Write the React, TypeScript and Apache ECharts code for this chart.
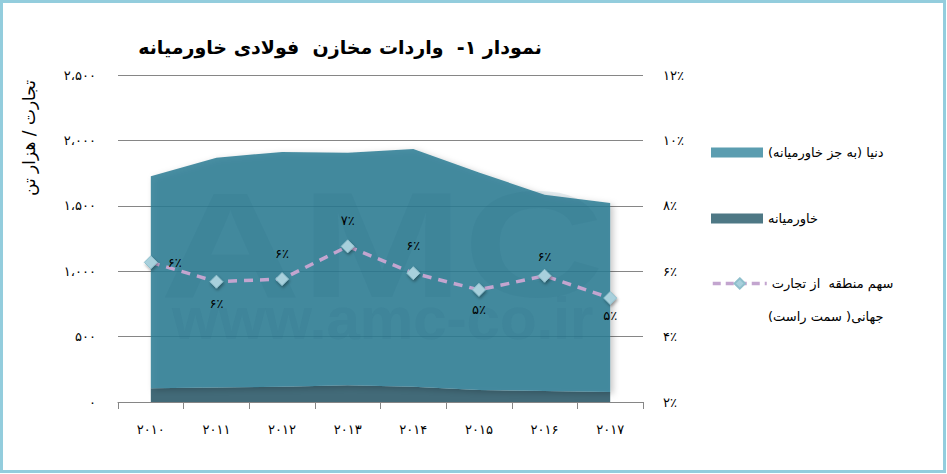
import React, { useEffect, useRef } from "react";
import * as echarts from "echarts";

const years = ["2010", "2011", "2012", "2013", "2014", "2015", "2016", "2017"];
const middleEast = [105, 110, 117, 128, 117, 92, 84, 77];
const worldExME = [1620, 1758, 1795, 1777, 1818, 1663, 1501, 1444];
const sharePct = [6.27, 5.68, 5.76, 6.76, 5.94, 5.43, 5.86, 5.18];
const leftTickLabels = ["۰", "۵۰۰", "۱،۰۰۰", "۱،۵۰۰", "۲،۰۰۰", "۲،۵۰۰"];

const titleText = "نمودار ۱-  واردات مخازن  فولادی خاورمیانه";
const yName = "تجارت / هزار تن";
const worldName = "\u200Fدنیا (به جز خاورمیانه)\u200F";
const meName = "خاورمیانه";
const shareName = "سهم منطقه  از تجارت";
const shareName2 = "\u200Fجهانی( سمت راست)\u200F";

const FONT = "DejaVu Sans";
const faDigits = "۰۱۲۳۴۵۶۷۸۹";
const fa = (s: string | number) => String(s).replace(/[0-9]/g, (d) => faDigits[+d]);

const labelPos = ["right", "bottom", "top", "top", "top", "bottom", "top", "bottom"];
const labelDist = [10, 8, 12, 12, 14, 6, 6, 4];

export default function App() {
  const ref = useRef<HTMLDivElement>(null);
  useEffect(() => {
    document.body.style.margin = "0";
    const chart = echarts.init(ref.current!, null, { renderer: "svg" });
    const legendText = { fontFamily: FONT, fontSize: 13, color: "#000" };
    const option: any = {
      animation: false,
      backgroundColor: "#fff",
      textStyle: { fontFamily: FONT },
      title: {
        text: titleText,
        left: 335,
        textAlign: "center",
        top: 32,
        textStyle: { fontFamily: FONT, fontSize: 19, fontWeight: "bold", color: "#000" },
      },
      grid: { left: 118, right: 304, top: 75, bottom: 72 },
      legend: [
        {
          data: [{ name: worldName, icon: "rect", itemStyle: { color: "#5B9DB0" } }],
          left: 711, top: 146, padding: 0, itemWidth: 52, itemHeight: 10,
          textStyle: legendText,
        },
        {
          data: [{ name: meName, icon: "rect", itemStyle: { color: "#4E7885" } }],
          left: 711, top: 212, padding: 0, itemWidth: 52, itemHeight: 10,
          textStyle: legendText,
        },
        {
          data: [{ name: shareName, lineStyle: { color: "#C3A5CF", width: 3.5, type: [8, 5] } }],
          left: 711, top: 277, padding: 0, itemWidth: 54, itemHeight: 13,
          textStyle: legendText,
        },
      ],
      xAxis: {
        type: "category",
        data: years,
        boundaryGap: true,
        axisLine: { lineStyle: { color: "#868686", width: 1 } },
        axisTick: { show: true, length: 7, lineStyle: { color: "#868686" } },
        axisLabel: { formatter: (v: string) => fa(v), color: "#000", fontSize: 13, margin: 21, fontFamily: FONT },
      },
      yAxis: [
        {
          type: "value", min: 0, max: 2500, interval: 500,
          axisLine: { show: false }, axisTick: { show: false },
          splitLine: { lineStyle: { color: "#868686", width: 1 } },
          axisLabel: { formatter: (v: number) => leftTickLabels[Math.round(v / 500)], color: "#000", fontSize: 13, margin: 22, fontFamily: FONT },
        },
        {
          type: "value", min: 2, max: 12, interval: 2,
          axisLine: { show: false }, axisTick: { show: false }, splitLine: { show: false },
          axisLabel: { formatter: (v: number) => fa(v) + "٪", color: "#000", fontSize: 13, margin: 20, fontFamily: FONT },
        },
      ],
      series: [
        {
          type: "line", name: meName, stack: "imp", data: middleEast,
          symbol: "none", lineStyle: { width: 0, opacity: 0 },
          itemStyle: { color: "#426A78" },
          areaStyle: { color: "#426A78", opacity: 1 },
          z: 2,
        },
        {
          type: "line", name: worldName, stack: "imp", data: worldExME,
          symbol: "none", lineStyle: { width: 0, opacity: 0 },
          itemStyle: { color: "#2C7B93" },
          areaStyle: { color: "#2C7B93", opacity: 0.85, shadowBlur: 6, shadowColor: "rgba(0,0,0,0.25)", shadowOffsetX: 3, shadowOffsetY: 2 },
          z: 2,
        },
        {
          type: "line", name: shareName, yAxisIndex: 1,
          data: sharePct.map((v, i) => ({ value: v, label: { position: labelPos[i], distance: labelDist[i] } })),
          symbol: "diamond", symbolSize: 13,
          itemStyle: { color: "#A8D0DC", borderColor: "#8FBFCC", borderWidth: 1, shadowBlur: 3, shadowColor: "rgba(0,0,0,0.35)", shadowOffsetX: 1, shadowOffsetY: 2 },
          lineStyle: { color: "#C3A5CF", width: 3.5, type: [9, 7] },
          label: { show: true, formatter: (p: any) => fa(Math.round(p.value)) + "٪", color: "#000", fontSize: 13, fontFamily: FONT },
          z: 5,
        },
      ],
      graphic: [
        {
          type: "text", x: 160, y: 320, z: 3, silent: true, scaleX: 1.3,
          style: { text: "AMC", font: "bold 150px 'Liberation Sans'", fill: "rgba(40,100,130,0.11)", verticalAlign: "bottom" },
        },
        {
          type: "text", x: 172, y: 348, z: 3, silent: true,
          style: { text: "www.amc-co.ir", font: "bold 60px 'Liberation Sans'", fill: "rgba(40,100,130,0.1)", verticalAlign: "bottom" },
        },
        {
          type: "text", x: 29, y: 138, rotation: Math.PI / 2, silent: true,
          style: { text: yName, font: "17px 'DejaVu Sans'", fill: "#000", align: "center", verticalAlign: "middle" },
        },
        {
          type: "text", x: 768, y: 316, silent: true,
          style: { text: shareName2, font: "13px 'DejaVu Sans'", fill: "#000", align: "left", verticalAlign: "middle" },
        },
        {
          type: "rect", silent: true, z: 10,
          shape: { x: 1.5, y: 1.5, width: 943, height: 470 },
          style: { fill: "none", stroke: "#93CDDD", lineWidth: 3 },
        },
      ],
    };
    chart.setOption(option);
    return () => chart.dispose();
  }, []);
  return <div ref={ref} style={{ width: 947, height: 474 }} />;
}
